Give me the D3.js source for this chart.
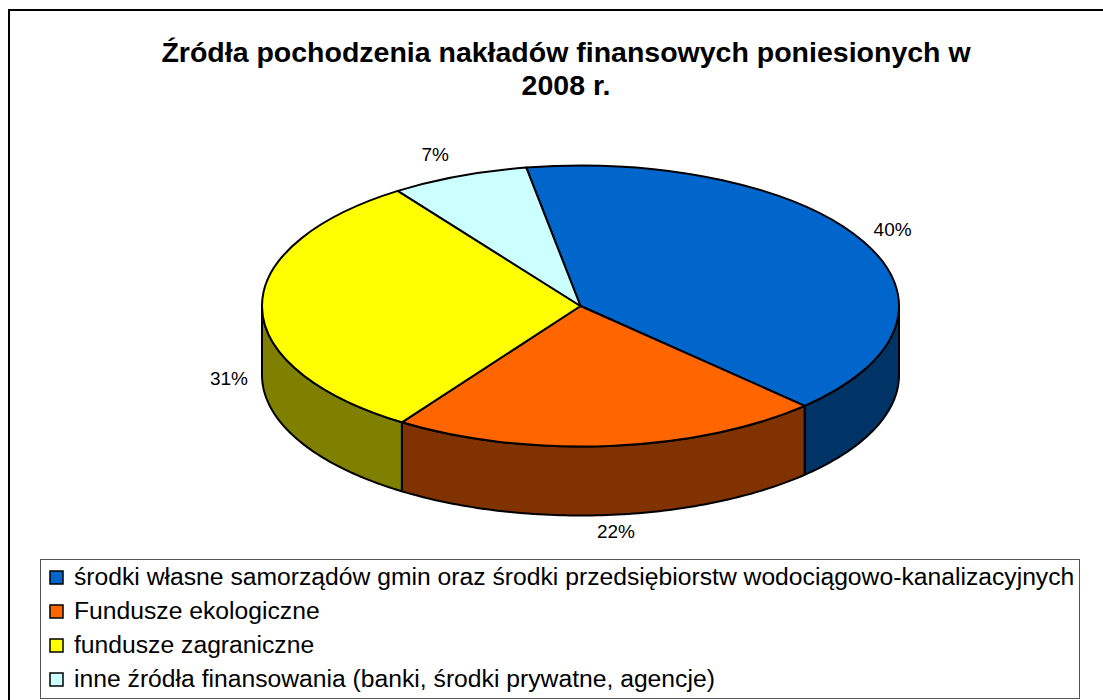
<!DOCTYPE html>
<html>
<head>
<meta charset="utf-8">
<script src="https://cdn.jsdelivr.net/npm/d3@7"></script>
<style>
  html, body { margin: 0; padding: 0; background: #fff; overflow: hidden; }
  text { font-family: "Liberation Sans", Arial, sans-serif; fill: #000; }
</style>
</head>
<body>
<div id="chart"></div>
<script>
// values
let titleLines = ["Źródła pochodzenia nakładów finansowych poniesionych w", "2008 r."];
let categories = [
  "środki własne samorządów gmin oraz środki przedsiębiorstw wodociągowo-kanalizacyjnych",
  "Fundusze ekologiczne",
  "fundusze zagraniczne",
  "inne źródła finansowania (banki, środki prywatne, agencje)"
];
// slice sizes estimated from the rim, the labels show them rounded
let values = [40.3, 21.9, 30.8, 7.0];
let topColors = ["#0066CC", "#FF6600", "#FFFF00", "#CCFFFF"];
let sideColors = ["#003366", "#803300", "#808000", "#666666"];

let width = 1103, height = 700;

let svg = d3.select("#chart").append("svg")
  .attr("width", width).attr("height", height);

// outer frame, it runs off the right and bottom of the picture
svg.append("rect")
  .attr("x", 9).attr("y", 10)
  .attr("width", width + 20).attr("height", height + 20)
  .attr("fill", "#fff").attr("stroke", "#000").attr("stroke-width", 2);

// title
svg.append("g").selectAll("text")
  .data(titleLines)
  .enter()
  .append("text")
  .attr("x", 566)
  .attr("y", function(d, i) { return 62 + i * 33; })
  .attr("text-anchor", "middle")
  .attr("font-size", 28.5)
  .attr("font-weight", "bold")
  .text(function(d) { return d; });

// 3D pie: flat ellipse plus a wall below it
let cx = 580.5, cy = 306, rx = 318.5, ry = 140.5, depth = 69;
let startAngle = -9.8 * Math.PI / 180;

let pie = d3.pie().sort(null)
  .startAngle(startAngle)
  .endAngle(startAngle + 2 * Math.PI);
let slices = pie(values);

function px(a) { return cx + rx * Math.sin(a); }
function py(a) { return cy - ry * Math.cos(a); }

// points along the rim between two angles
function rim(a0, a1) {
  let n = Math.max(2, Math.ceil(Math.abs(a1 - a0) * 60));
  return d3.range(n + 1).map(function(i) {
    let a = a0 + (a1 - a0) * i / n;
    return [px(a), py(a)];
  });
}

let line = d3.line();

// wall is only visible on the front half, angle 90..270 degrees
let wallFrom = Math.PI / 2, wallTo = 3 * Math.PI / 2;
let walls = svg.append("g");
slices.forEach(function(s, i) {
  let a0 = Math.max(s.startAngle, wallFrom);
  let a1 = Math.min(s.endAngle, wallTo);
  if (a1 <= a0) return;
  let upper = rim(a0, a1);
  let lower = upper.slice().reverse().map(function(p) { return [p[0], p[1] + depth]; });
  walls.append("path")
    .attr("d", line(upper.concat(lower)) + "Z")
    .attr("fill", sideColors[i])
    .attr("stroke", "#000")
    .attr("stroke-width", 2)
    .attr("stroke-linejoin", "round");
});

// top face: d3.arc on a unit circle squashed into the ellipse
let arc = d3.arc().innerRadius(0).outerRadius(rx);
svg.append("g")
  .attr("transform", "translate(" + cx + "," + cy + ") scale(1," + (ry / rx) + ")")
  .selectAll("path")
  .data(slices)
  .enter()
  .append("path")
  .attr("d", arc)
  .attr("fill", function(d, i) { return topColors[i]; })
  .attr("stroke", "#000")
  .attr("stroke-width", 2)
  .attr("stroke-linejoin", "round")
  .attr("vector-effect", "non-scaling-stroke");

// percent labels, pushed out past the rim
let labelGap = [[29, -6], [6, 92], [-33, 78], [-24, -15]];
svg.append("g").selectAll("text")
  .data(slices)
  .enter()
  .append("text")
  .attr("x", function(d, i) { return px((d.startAngle + d.endAngle) / 2) + labelGap[i][0]; })
  .attr("y", function(d, i) { return py((d.startAngle + d.endAngle) / 2) + labelGap[i][1]; })
  .attr("text-anchor", "middle")
  .attr("font-size", 19)
  .attr("fill", "#000")
  .text(function(d) { return Math.round(d.value) + "%"; });

// legend box
let legend = svg.append("g");
legend.append("rect")
  .attr("x", 40.5).attr("y", 559.5)
  .attr("width", 1039).attr("height", 139)
  .attr("fill", "#fff").attr("stroke", "#555").attr("stroke-width", 1);

let legendY = d3.scalePoint()
  .domain(categories)
  .range([577, 679]);

let rows = legend.selectAll("g")
  .data(categories)
  .enter()
  .append("g")
  .attr("transform", function(d) { return "translate(0," + legendY(d) + ")"; });

rows.append("rect")
  .attr("x", 50).attr("y", -6)
  .attr("width", 13).attr("height", 13)
  .attr("fill", function(d, i) { return topColors[i]; })
  .attr("stroke", "#000")
  .attr("stroke-width", 1.5);

rows.append("text")
  .attr("x", 74).attr("y", 8)
  .attr("font-size", 24.7)
  .text(function(d) { return d; });
</script>
</body>
</html>
